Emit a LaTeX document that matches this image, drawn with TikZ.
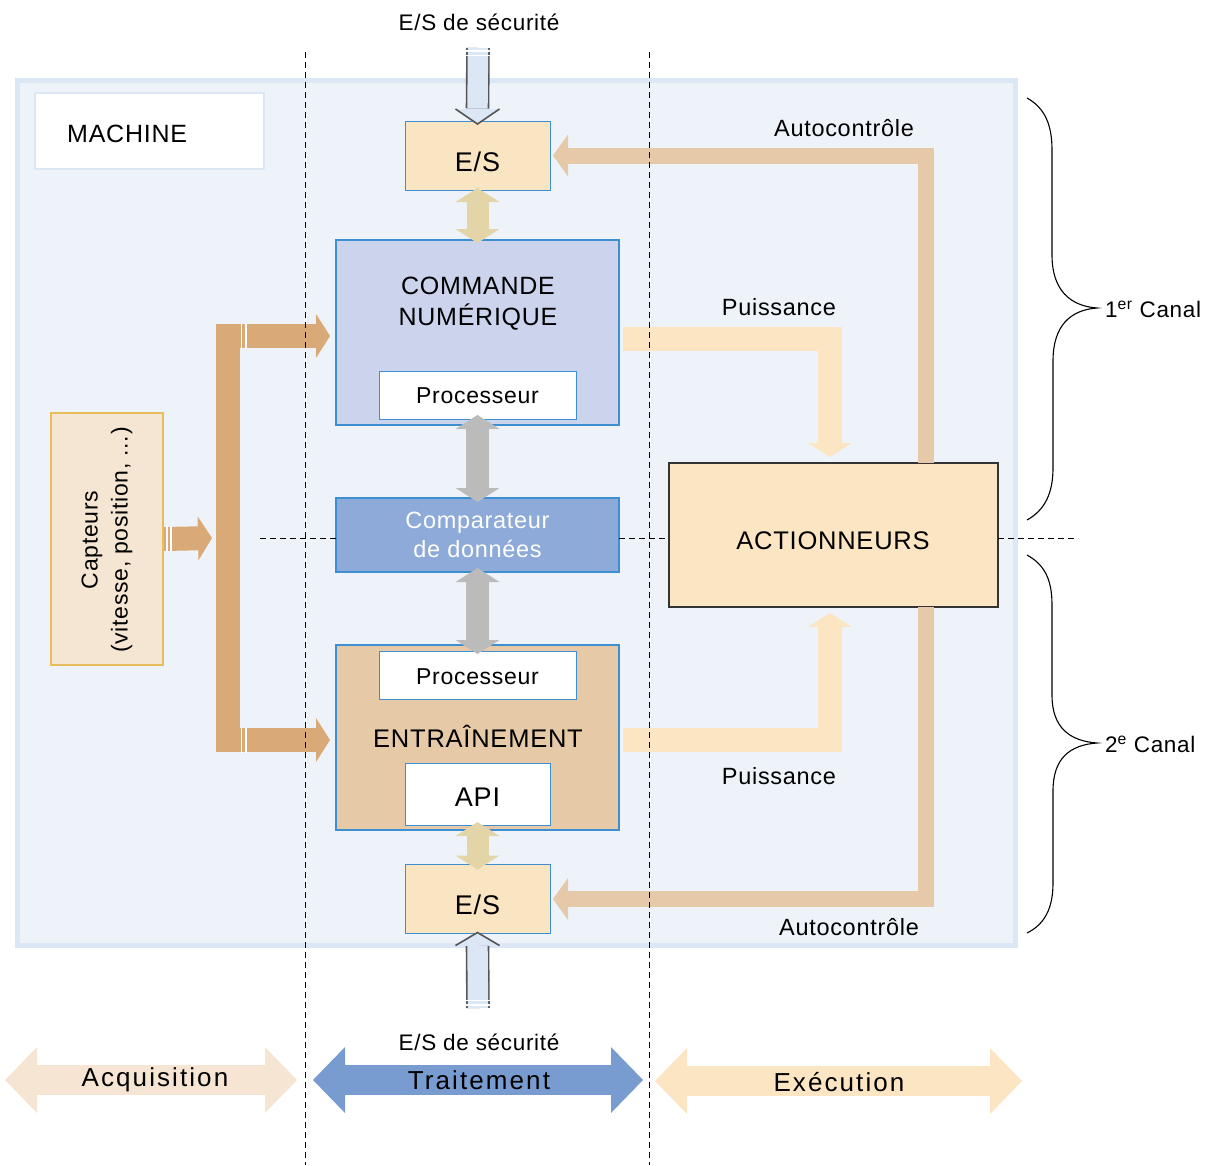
\documentclass[tikz,border=0pt]{standalone}
\usepackage{fontspec}
\setmainfont{Liberation Sans}[LetterSpace=3]
\newfontfamily\widefont{Liberation Sans}[LetterSpace=8]
\usetikzlibrary{arrows.meta}

\definecolor{machinefill}{HTML}{EEF3FA}
\definecolor{machineline}{HTML}{DCE7F5}
\definecolor{iofill}{HTML}{FAE5C3}
\definecolor{boxline}{HTML}{3D8FD1}
\definecolor{cnfill}{HTML}{CBD4EC}
\definecolor{cmpfill}{HTML}{8EAAD8}
\definecolor{drvfill}{HTML}{E6C9A7}
\definecolor{capfill}{HTML}{F5E6D3}
\definecolor{capline}{HTML}{E9BC5C}
\definecolor{actfill}{HTML}{FBE5C3}
\definecolor{actline}{HTML}{333333}
\definecolor{busfill}{HTML}{D9AA77}
\definecolor{pwrfill}{HTML}{FBE5C3}
\definecolor{autofill}{HTML}{E6C9A8}
\definecolor{linkfill}{HTML}{E3D5A8}
\definecolor{greyarrow}{HTML}{BBBBBB}
\definecolor{safefill}{HTML}{DCE7F5}
\definecolor{safeline}{HTML}{555555}
\definecolor{acqfill}{HTML}{F5E5D2}
\definecolor{trtfill}{HTML}{789CCF}
\definecolor{exefill}{HTML}{FBE5C3}

\tikzset{
  tipS/.tip={Triangle[length=14pt 0 0,width=44pt 0 0,line width=0pt 0 0]},
  tipA/.tip={Triangle[length=15pt 0 0,width=42pt 0 0,line width=0pt 0 0]},
  tipB/.tip={Triangle[length=32pt 0 0,width=66pt 0 0,line width=0pt 0 0]},
  block/.style={inner sep=0pt, outer sep=0pt},
  iobox/.style={block, draw=boxline, line width=1pt, fill=iofill,
    minimum width=145pt, minimum height=69pt},
  bigbox/.style={block, draw=boxline, line width=1.2pt,
    minimum width=283pt, minimum height=185pt},
  procbox/.style={block, draw=boxline, line width=1pt, fill=white,
    minimum width=197pt, minimum height=48pt},
  lbl/.style={inner sep=0pt, font=\fontsize{23.5}{28}\selectfont},
  iolbl/.style={inner sep=0pt, font=\fontsize{27}{32}\selectfont},
  proclbl/.style={inner sep=0pt, font=\fontsize{23}{28}\selectfont},
  greylink/.style={draw=greyarrow, line width=23pt, arrows={tipS-tipS}},
  tanlink/.style={draw=linkfill, line width=22pt, arrows={tipS-tipS}},
  busarrow/.style={draw=busfill, line width=24pt, line join=miter},
  pwrarrow/.style={draw=pwrfill, line width=24pt, line join=miter, arrows={-tipS}},
  autoarrow/.style={draw=autofill, line width=16pt, line join=miter, arrows={-tipA}},
  phase/.style={line width=30pt, arrows={tipB-tipB}},
  phaselbl/.style={inner sep=0pt, font=\widefont\fontsize{26}{30}\selectfont},
  divider/.style={line width=1pt, dash pattern=on 6pt off 4pt},
  safeshaft/.style={draw=safeline, line width=1.6pt, double=safefill, double distance=20.4pt},
  safehead/.style={draw=safeline, line width=1.6pt, line join=miter},
  gap/.style={white, line width=1.5pt},
  brace/.style={line width=1.1pt},
}

\begin{document}
\begin{tikzpicture}[x=1pt,y=-1pt]
\useasboundingbox (0,0) rectangle (1213,1165);

% machine frame
\path[fill=machinefill, draw=machineline, line width=5pt] (17.5,80.5) rectangle (1015.5,945.5);
\node[block, fill=white, draw=machineline, line width=2.5pt, minimum width=229pt, minimum height=76pt]
  (machine) at (149.5,131) {};
\node[lbl, anchor=west, font=\fontsize{25}{30}\selectfont] (machinelbl) at (67,134) {MACHINE};

% processing column
\node[iobox] (iotop) at (477.5,155.5) {};
\node[iolbl] (iotoplbl) at (477.5,162) {E/S};
\node[bigbox, fill=cnfill] (cn) at (477.5,332.5) {};
\node[lbl, align=center, font=\fontsize{25}{31}\selectfont] (cntitle) at (478,303.5) {COMMANDE\\NUMÉRIQUE};
\node[procbox] (proc1) at (477.5,395) {};
\node[proclbl] (proc1lbl) at (477.5,396) {Processeur};
\node[block, draw=boxline, line width=1.2pt, fill=cmpfill, minimum width=283pt, minimum height=74pt,
  text=white, align=center, font=\fontsize{23.5}{29}\selectfont] (cmp) at (477.5,535) {Comparateur\\de données};
\node[bigbox, fill=drvfill] (ent) at (477.5,737.5) {};
\node[procbox] (proc2) at (477.5,675) {};
\node[proclbl] (proc2lbl) at (477.5,677) {Processeur};
\node[lbl, font=\fontsize{25.5}{30}\selectfont] (enttitle) at (478,736.5) {ENTRAÎNEMENT};
\node[block, draw=boxline, line width=1pt, fill=white, minimum width=145pt, minimum height=62pt] (api) at (477.5,794) {};
\node[iolbl] (apilbl) at (477.5,797) {API};
\node[iobox] (iobot) at (477.5,899) {};
\node[iolbl] (iobotlbl) at (477.5,905) {E/S};

% sensors and actuators
\node[block, draw=capline, line width=1.5pt, fill=capfill, minimum width=112pt, minimum height=252pt] (cap) at (107,539) {};
\node[lbl, rotate=90, align=center, font=\fontsize{23}{30}\selectfont] (caplbl) at (107,540) {Capteurs\\(vitesse, position, ...)};
\node[block, draw=actline, line width=1.2pt, fill=actfill, minimum width=329pt, minimum height=144pt] (act) at (833.5,535) {};
\node[lbl, font=\fontsize{25.5}{30}\selectfont] (actlbl) at (833,541) {ACTIONNEURS};

% sensor bus
\coordinate (busN) at (228,336);
\coordinate (busS) at (228,740);
\draw[busarrow, arrows={-tipS}] ([xshift=1pt]cap.east) -- (212,538);
\draw[busarrow, arrows={tipS-tipS}] ([xshift=-6pt]cn.west |- busN) -- (busN) -- (busS) -- ([xshift=-6pt]ent.west |- busS);
\draw[gap] (167,526) -- (167,551) (171,526) -- (171,551);
\draw[gap] (241.5,323.5) -- (241.5,348.5) (246,323.5) -- (246,348.5);
\draw[gap] (241.5,727.5) -- (241.5,752.5) (246,727.5) -- (246,752.5);

% data links
\draw[greylink] ([yshift=10pt]cn.south) -- ([yshift=-4pt]cmp.north);
\draw[greylink] ([yshift=4pt]cmp.south) -- ([yshift=-9pt]ent.north);
\draw[tanlink] ([yshift=2pt]iotop.south) -- ([yshift=-3pt]cn.north);
\draw[tanlink] ([yshift=8pt]ent.south) -- ([yshift=-5pt]iobot.north);

% power lines
\draw[pwrarrow] ([xshift=4pt,yshift=-6pt]cn.east) -| ([xshift=-3.5pt,yshift=6pt]act.north);
\draw[pwrarrow] ([xshift=4pt,yshift=-2.5pt]ent.east) -| ([xshift=-3.5pt,yshift=-6pt]act.south);
\node[lbl] (pwr1) at (779,307) {Puissance};
\node[lbl] (pwr2) at (779,776) {Puissance};

% self-monitoring feedback
\draw[autoarrow] ([xshift=92pt]act.north) |- ([xshift=3pt]iotop.east);
\draw[autoarrow] ([xshift=92pt]act.south) |- ([xshift=3pt]iobot.east);
\node[lbl] (auto1) at (844,128) {Autocontrôle};
\node[lbl] (auto2) at (849,927) {Autocontrôle};

% safety inputs / outputs
\node[lbl, font=\fontsize{22.5}{27}\selectfont] (safetop) at (479,22) {E/S de sécurité};
\coordinate (sinT) at (478,48);
\fill[safefill] ([xshift=-22pt,yshift=12pt]iotop.north) -- ([xshift=22pt,yshift=12pt]iotop.north) -- ([yshift=-3pt]iotop.north) -- cycle;
\draw[safeshaft] (sinT) -- ([yshift=12.5pt]iotop.north);
\draw[safehead] ([xshift=-22pt,yshift=12pt]iotop.north) -- ([yshift=-3pt]iotop.north) -- ([xshift=22pt,yshift=12pt]iotop.north);
\draw[gap] (465,51) -- (491,51) (465,55.5) -- (491,55.5);

\coordinate (sinB) at (478,1008);
\fill[safefill] ([xshift=-22pt,yshift=-12pt]iobot.south) -- ([xshift=22pt,yshift=-12pt]iobot.south) -- ([yshift=1pt]iobot.south) -- cycle;
\draw[safeshaft] (sinB) -- ([yshift=-12.5pt]iobot.south);
\draw[safehead] ([xshift=-22pt,yshift=-12pt]iobot.south) -- ([yshift=1pt]iobot.south) -- ([xshift=22pt,yshift=-12pt]iobot.south);
\draw[gap] (465,1005) -- (491,1005) (465,1000.5) -- (491,1000.5);
\node[lbl, font=\fontsize{22.5}{27}\selectfont] (safebot) at (479,1042) {E/S de sécurité};

% functional zones
\draw[divider] (305.5,52) -- (305.5,1165);
\draw[divider] (649.5,52) -- (649.5,1165);
\draw[divider] (260,538) -- (cmp.west |- 0,538);
\draw[divider] (cmp.east |- 0,538) -- (act.west |- 0,538);
\draw[divider] (act.east |- 0,538) -- (1078,538);

% channels
\draw[brace] (1027,98) .. controls (1045,108) and (1052,125) .. (1052,150) -- (1052,255)
  .. controls (1052,290) and (1070,306) .. (1097,308)
  .. controls (1070,310) and (1053,326) .. (1053,361) -- (1053,468)
  .. controls (1053,493) and (1045,510) .. (1027,520);
\node[lbl, anchor=west, font=\fontsize{22.5}{27}\selectfont] (ch1) at (1105,309) {1\textsuperscript{er} Canal};
\draw[brace] (1027,555) .. controls (1045,565) and (1052,580) .. (1052,605) -- (1052,695)
  .. controls (1052,728) and (1070,741) .. (1097,743)
  .. controls (1070,745) and (1053,758) .. (1053,791) -- (1053,883)
  .. controls (1053,908) and (1045,924) .. (1027,933);
\node[lbl, anchor=west, font=\fontsize{22.5}{27}\selectfont] (ch2) at (1105,744) {2\textsuperscript{e} Canal};

% phase arrows
\coordinate (acqL) at (5,1080);
\coordinate (acqR) at (297,1080);
\coordinate (trtL) at (313,1080);
\coordinate (trtR) at (643,1080);
\coordinate (exeL) at (655,1081);
\coordinate (exeR) at (1022,1081);
\draw[phase, draw=acqfill] (acqL) -- (acqR);
\draw[phase, draw=trtfill] (trtL) -- (trtR);
\draw[phase, draw=exefill] (exeL) -- (exeR);
\node[phaselbl] (acq) at (155,1080) {Acquisition};
\node[phaselbl] (trt) at (479,1080) {Traitement};
\node[phaselbl] (exe) at (839,1082) {Exécution};
\end{tikzpicture}
\end{document}
